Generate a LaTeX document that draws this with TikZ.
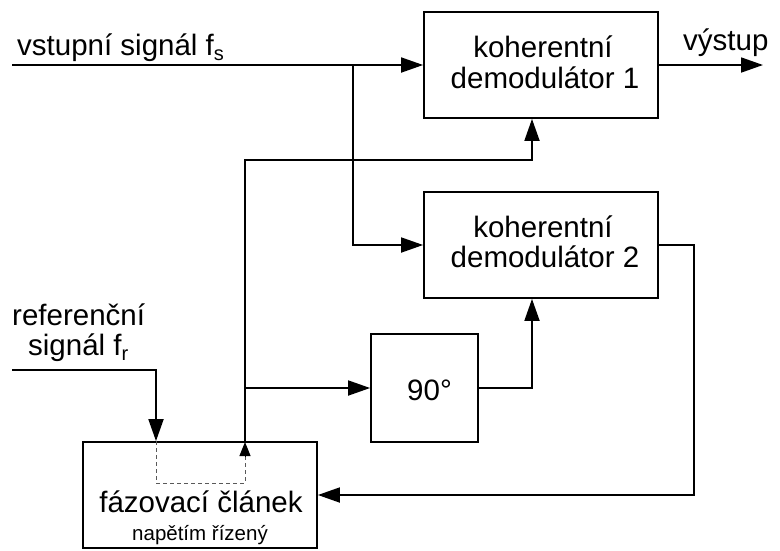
\documentclass[tikz,border=0pt]{standalone}
\usepackage{fontspec}
\setmainfont{Liberation Sans}
\usetikzlibrary{arrows.meta,calc}
\newcommand{\subsc}[1]{{\fontsize{20}{20}\selectfont\raisebox{-5pt}{#1}}}
\begin{document}
\begin{tikzpicture}[x=1pt,y=-1pt,
  blk/.style={draw,line width=1.8pt,inner sep=0pt},
  wire/.style={line width=1.8pt},
  arr/.style={wire,-{Triangle[length=22pt,width=15pt]}},
  txt/.style={font=\fontsize{29.5}{31}\selectfont,inner sep=0pt},
  smalltxt/.style={font=\fontsize{20.5}{22}\selectfont,inner sep=0pt},
  dashline/.style={line width=1pt,draw=black!65,dash pattern=on 4pt off 3pt},
]
\useasboundingbox (0,0) rectangle (780,550);
% blocks
\node[blk,minimum width=234pt,minimum height=106pt] (d1) at (541,65) {};
\node[blk,minimum width=234pt,minimum height=106pt] (d2) at (541,245) {};
\node[blk,minimum width=107pt,minimum height=108pt] (ph) at (424.5,388) {};
\node[blk,minimum width=234pt,minimum height=106pt] (fz) at (200,495) {};
% texts
\node[txt,anchor=base] (d1a) at (543,57) {koherentní};
\node[txt,anchor=base] (d1b) at (545,88) {demodulátor 1};
\node[txt,anchor=base] (d2a) at (543,237) {koherentní};
\node[txt,anchor=base] (d2b) at (545,267) {demodulátor 2};
\node[txt,anchor=base] (pht) at (429.5,400) {90°};
\node[txt,anchor=base] (fza) at (201,512) {fázovací článek};
\node[smalltxt,anchor=base] (fzb) at (200,540) {napětím řízený};
\node[txt,anchor=base west] (inT) at (17,55) {vstupní signál f\subsc{s}};
\node[txt,anchor=base west] (outT) at (683,50) {výstup};
\node[txt,anchor=base west] (refA) at (12,325) {referenční};
\node[txt,anchor=base west] (refB) at (28,355) {signál f\subsc{r}};
% coordinates
\coordinate (inS) at (12,65);
\coordinate (J1) at (353,65);
\coordinate (outE) at (763,65);
\coordinate (fzo) at (245,442);
\coordinate (k1) at (532,160);
\coordinate (k2) at (694,495);
\coordinate (r0) at (12,370);
\coordinate (r1) at (156,370);
\coordinate (dd) at (156,483);
% connectors
\draw[arr] (inS) -- (d1.west);
\draw[arr] (J1) |- (d2.west);
\draw[arr] (d1.east) -- (outE);
\draw[arr] (fzo) |- (k1) -- (k1 |- d1.south);
\draw[arr] (fzo |- ph.west) -- (ph.west);
\draw[arr] (ph.east) -| (k1 |- d2.south);
\draw[arr] (d2.east) -| (k2) -- (fz.east);
\draw[arr] (r0) -| (r1 |- fz.north);
\draw[dashline] (r1 |- fz.north) -- (dd) -| ($(fzo)+(0,14)$);
\draw[line width=1pt,-{Triangle[length=14pt,width=11pt]}] ($(fzo)+(0,15)$) -- (fzo);
\end{tikzpicture}
\end{document}
